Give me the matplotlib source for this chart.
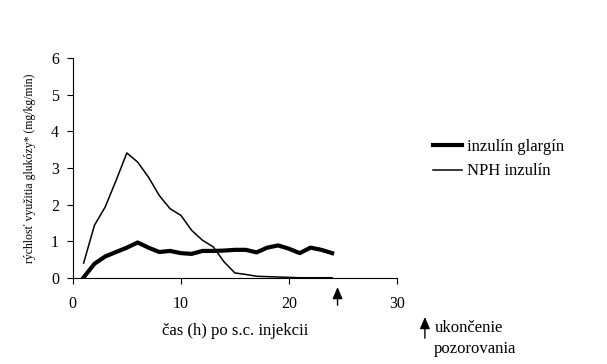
import matplotlib
matplotlib.use('Agg')
import matplotlib.pyplot as plt

plt.rcParams['font.family'] = ['Liberation Serif', 'DejaVu Serif']

hours = list(range(1, 25))
glargin = [0.02, 0.39, 0.59, 0.71, 0.83, 0.97, 0.83, 0.71, 0.74, 0.68, 0.66, 0.74,
           0.74, 0.75, 0.77, 0.77, 0.70, 0.83, 0.89, 0.80, 0.68, 0.83, 0.77, 0.68]
nph = [0.41, 1.44, 1.94, 2.66, 3.41, 3.16, 2.75, 2.25, 1.89, 1.71, 1.30, 1.03,
       0.85, 0.44, 0.14, 0.10, 0.05, 0.04, 0.03, 0.02, 0.01, 0.01, 0.01, 0.01]
end_hour = 24.5

fig = plt.figure(figsize=(6.07, 3.64), dpi=100)
ax = fig.add_axes([0.120, 0.236, 0.534, 0.605])

ax.plot(hours, glargin, color='black', lw=3.0, label='inzulín glargín')
ax.plot(hours, nph, color='black', lw=1.1, label='NPH inzulín')

ax.set_xlim(0, 30)
ax.set_ylim(0, 6)
ax.set_xticks([0, 10, 20, 30])
ax.set_yticks(range(0, 7))
ax.spines['top'].set_visible(False)
ax.spines['right'].set_visible(False)
ax.tick_params(direction='out', length=4, labelsize=11.5)
ax.tick_params(axis='x', pad=9)
ax.tick_params(axis='y', pad=6)

ax.set_xlabel('čas (h) po s.c. injekcii', fontsize=12, labelpad=8)
ax.set_ylabel('rýchlosť využitia glukózy* (mg/kg/min)', fontsize=8.5, labelpad=11)

arrow = dict(arrowstyle='-|>,head_length=0.7,head_width=0.3', color='black',
             lw=1.0, shrinkA=0, shrinkB=0)

# end of observation marker under the x axis
ax.annotate('', xy=(end_hour, -0.245), xytext=(end_hour, -0.74),
            xycoords='data', annotation_clip=False, arrowprops=arrow)

# explanatory note
ax.annotate('', xy=(0.700, 0.129), xytext=(0.700, 0.071),
            xycoords='figure fraction', arrowprops=arrow)
fig.text(0.716, 0.099, 'ukončenie', fontsize=12, va='center')
fig.text(0.714, 0.041, 'pozorovania', fontsize=12, va='center')

ax.legend(loc='upper left', bbox_to_anchor=(0.713, 0.618),
          bbox_transform=fig.transFigure, frameon=False, fontsize=12,
          borderpad=0, borderaxespad=0, handlelength=1.75, handletextpad=0.3,
          labelspacing=0.5)

fig.savefig('out.png', dpi=100)
